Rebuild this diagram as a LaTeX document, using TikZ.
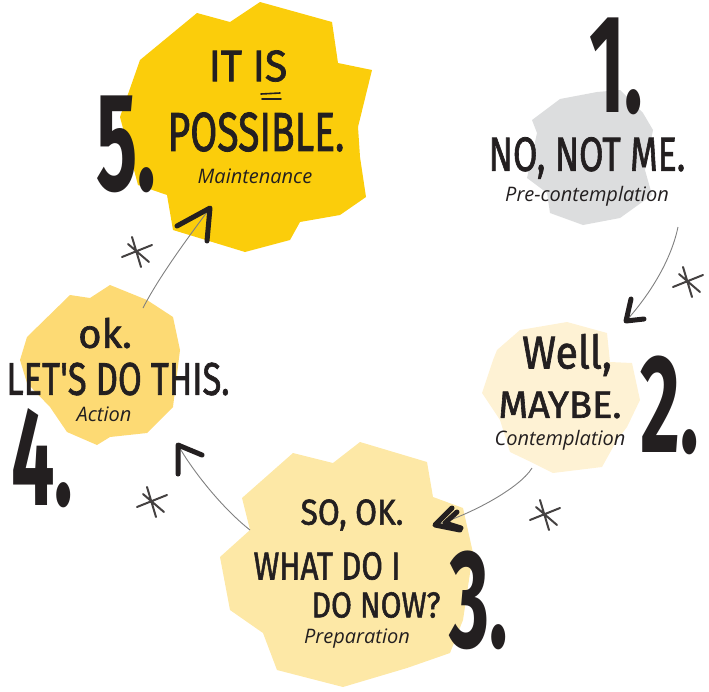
\documentclass[tikz,border=0pt]{standalone}
\usepackage{fontspec}
\usepackage{graphicx}
\setmainfont{Open Sans}
\newfontfamily\numfont{Fira Sans}
\newfontfamily\handfont{Fira Sans}[FakeBold=1.6]
\newfontfamily\tagfont{Open Sans}
\usetikzlibrary{positioning}

\definecolor{ink}{HTML}{231F20}
\definecolor{gold}{HTML}{FBCD0B}
\definecolor{honey}{HTML}{FDDA74}
\definecolor{butter}{HTML}{FDE8A6}
\definecolor{cream}{HTML}{FEF2D4}
\definecolor{mist}{HTML}{DCDDDE}

\newcommand{\stagenum}[1]{\scalebox{0.55}[1]{\fontsize{140}{140}\selectfont\numfont\bfseries #1}}
\newcommand{\scrawl}[3]{\scalebox{#1}[1]{\fontsize{#2}{#2}\selectfont\handfont #3}}

\begin{document}
\begin{tikzpicture}[x=1pt, y=-1pt,
    num/.style = {inner sep=0pt, anchor=base west, text=ink},
    hand/.style = {inner sep=0pt, text=ink},
    tag/.style = {inner sep=0pt, text=ink, font=\tagfont\itshape\fontsize{20}{20}\selectfont},
    shaft/.style = {draw=black!50, line width=0.9pt},
    headline/.style = {draw=ink, line width=5pt, line cap=round, line join=round},
    starline/.style = {draw=ink!85, line width=2pt, line cap=round},
    asterisk/.pic = {\draw[starline] (-15,5)--(15,-7) (-5,-15)--(4,15) (-9,-8)--(12,10);}]
    \useasboundingbox (0,0) rectangle (709,691);
    % blobs
    \fill[gold] (140,60) -- (197,13) -- (230,22) -- (260,2) -- (332,22) -- (338,63) -- (372,70) -- (358,127) -- (360,157) -- (366,197) -- (340,215) -- (300,222) -- (290,240) -- (245,252) -- (173,230) -- (167,195) -- (138,185) -- (120,117) -- cycle;
    \fill[mist] (532,120) -- (560,99) -- (597,92) -- (620,90) -- (643,113) -- (653,130) -- (645,170) -- (652,195) -- (620,218) -- (583,225) -- (550,213) -- (547,193) -- (527,178) -- (537,133) -- cycle;
    \fill[cream] (497,350) -- (520,330) -- (567,322) -- (607,333) -- (610,362) -- (632,363) -- (640,400) -- (627,427) -- (617,440) -- (602,467) -- (553,473) -- (533,463) -- (510,452) -- (500,420) -- (482,393) -- (493,360) -- cycle;
    \fill[butter] (242,498) -- (293,453) -- (333,463) -- (360,442) -- (427,462) -- (433,497) -- (463,508) -- (473,553) -- (463,620) -- (450,653) -- (407,668) -- (343,687) -- (277,670) -- (263,633) -- (230,610) -- (220,557) -- (250,530) -- cycle;
    \fill[honey] (27,337) -- (70,295) -- (90,298) -- (110,285) -- (147,300) -- (173,317) -- (180,350) -- (173,407) -- (147,433) -- (110,437) -- (97,445) -- (67,432) -- (50,407) -- (27,383) -- (20,360) -- cycle;

    % stage numbers
    \node[num] (n1) at (589,112) {\stagenum{1.}};
    \node[num] (n2) at (640,452) {\stagenum{2.}};
    \node[num] (n3) at (449,647) {\stagenum{3.}};
    \node[num] (n4) at (11,505) {\stagenum{4.}};
    \node[num] (n5) at (96,190) {\stagenum{5.}};

    % 5
    \node[hand] (itis) at (248,66) {\scrawl{0.93}{44}{IT IS}};
    \node[hand, below of=itis, node distance=66pt, xshift=8pt] (possible) {\scrawl{0.71}{55}{POSSIBLE.}};
    \node[tag, below of=possible, node distance=44pt, xshift=-1pt] (maint) {Maintenance};
    \draw[ink, line width=1.6pt, line cap=round] (261,94) -- (280,93) (262,99) -- (281,99);
    % 1
    \node[hand] (nome) at (587,158) {\scrawl{0.74}{48}{NO, NOT ME.}};
    \node[tag, below of=nome, node distance=38pt] (precon) {Pre-contemplation};
    % 2
    \node[hand] (well) at (567,355) {\scrawl{0.89}{46}{Well,}};
    \node[hand, below of=well, node distance=50pt, xshift=-7pt] (maybe) {\scrawl{1}{38}{MAYBE.}};
    \node[tag, below of=maybe, node distance=35pt] (contem) {Contemplation};
    % 3
    \node[hand] (sook) at (352,515) {\scrawl{0.88}{36}{SO, OK.}};
    \node[hand, below of=sook, node distance=51pt, xshift=-25pt] (whatdo) {\scrawl{0.8}{39}{WHAT DO I}};
    \node[hand, below of=whatdo, node distance=39pt, xshift=49pt] (donow) {\scrawl{0.84}{36}{DO NOW?}};
    \node[tag, below of=donow, node distance=34pt, xshift=-19pt] (prep) {Preparation};
    % 4
    \node[hand] (okay) at (105,333) {\scrawl{1}{40}{ok.}};
    \node[hand, below of=okay, node distance=46pt, xshift=13pt] (letsdo) {\scrawl{0.75}{46}{LET'S DO THIS.}};
    \node[tag, below of=letsdo, node distance=35pt, xshift=-14pt] (action) {Action};

    % arrows
    \coordinate (from1) at (678,227);
    \coordinate (to2) at (626,321);
    \coordinate (from2) at (532,468);
    \coordinate (to3) at (435,525);
    \coordinate (from3) at (250,530);
    \coordinate (to4) at (178,445);
    \coordinate (from4) at (143,308);
    \coordinate (to5) at (210,208);
    \draw[shaft] (from1) .. controls (670,265) and (645,300) .. (to2);
    \draw[headline] (to2) ++(5,-22) -- (to2) -- ++(18,-2);
    \draw[shaft] (from2) .. controls (520,488) and (470,515) .. (to3);
    \draw[headline] (to3) ++(17,-17) -- (to3) -- ++(25,5);
    \draw[headline] (to3) ++(22,-13) -- ++(-12,11) -- ++(16,5);
    \draw[shaft] (from3) .. controls (222,508) and (192,470) .. (to4);
    \draw[headline] (to4) ++(0,29) -- (to4) -- ++(24,10);
    \draw[shaft] (from4) .. controls (160,275) and (190,235) .. (to5);
    \draw[headline] (to5) ++(-33,18) -- (to5) -- ++(-3,33);
    \pic at (688,282) {asterisk};
    \pic at (545,515) {asterisk};
    \pic at (152,502) {asterisk};
    \pic at (137,252) {asterisk};
\end{tikzpicture}
\end{document}
